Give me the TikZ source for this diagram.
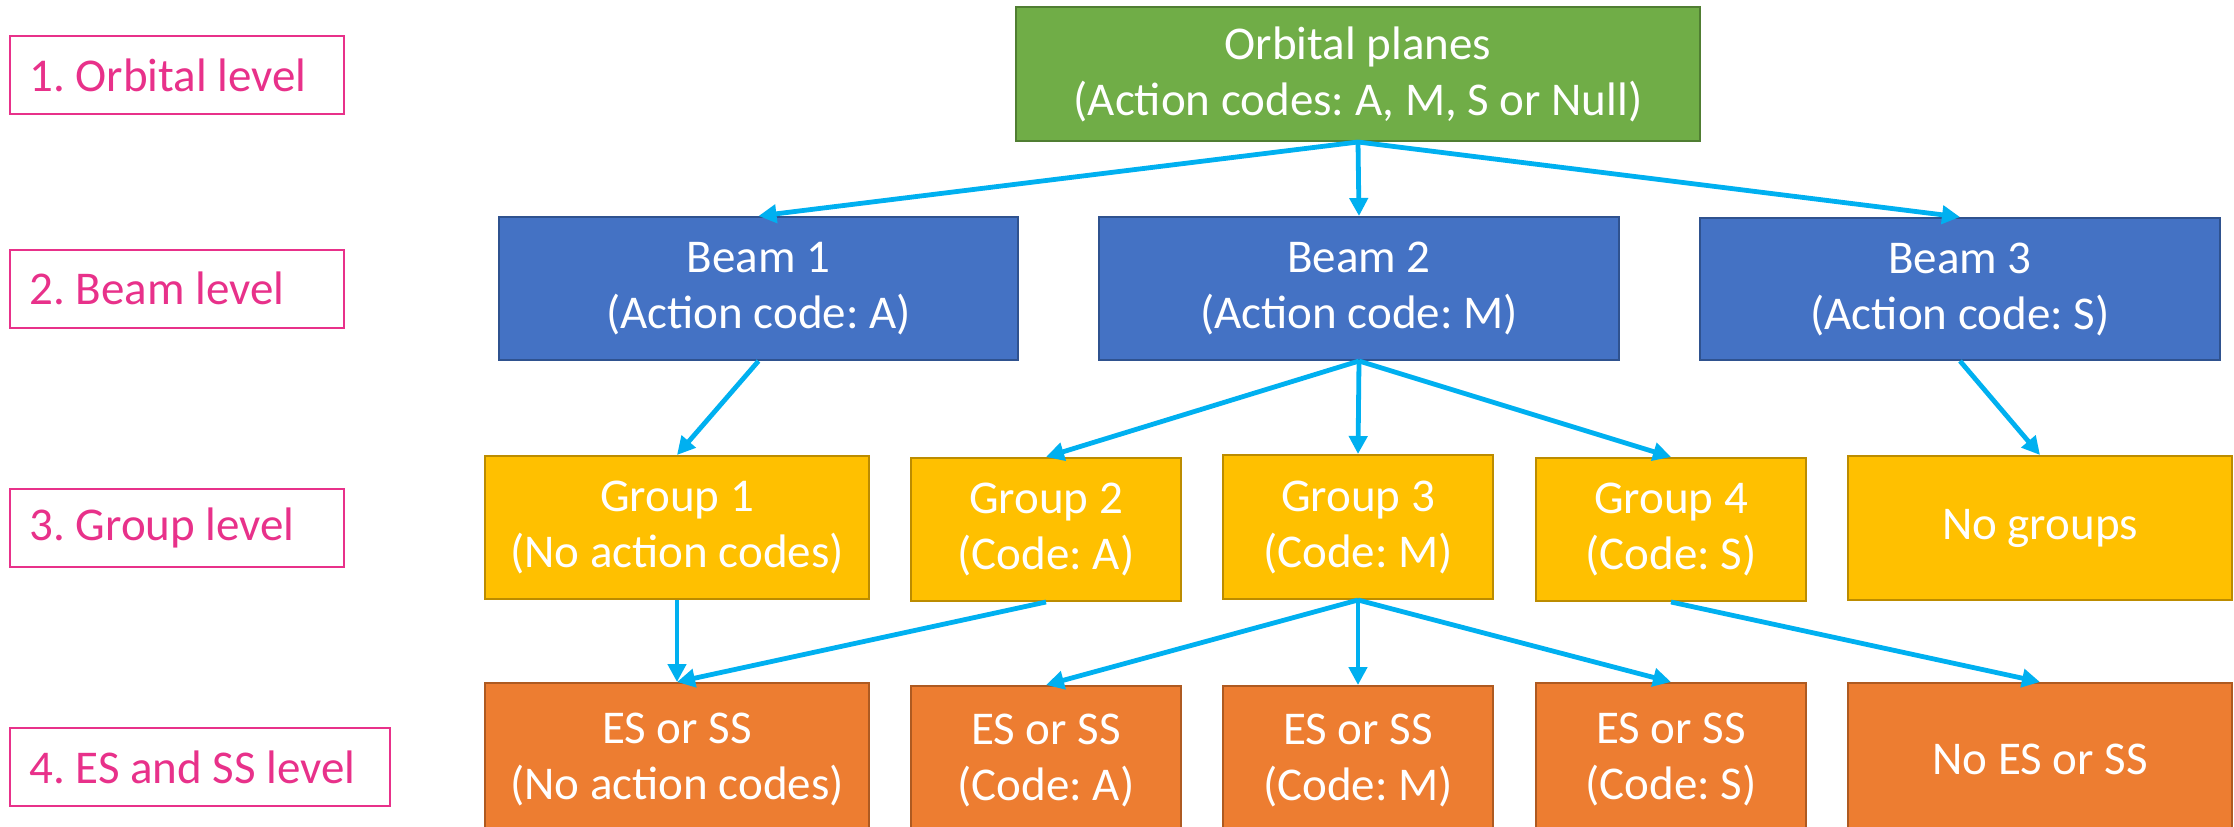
\documentclass[tikz,border=0pt]{standalone}
\usepackage{fontspec}
\setmainfont{Carlito}
\frenchspacing
\usetikzlibrary{arrows.meta}
\definecolor{gfill}{HTML}{70AD47}
\definecolor{gdraw}{HTML}{507E32}
\definecolor{bfill}{HTML}{4472C4}
\definecolor{bdraw}{HTML}{2F528F}
\definecolor{yfill}{HTML}{FFC000}
\definecolor{ydraw}{HTML}{BC8C00}
\definecolor{ofill}{HTML}{ED7D31}
\definecolor{odraw}{HTML}{AE5A21}
\definecolor{pinkc}{HTML}{E8318A}
\definecolor{arrowc}{HTML}{00B0F0}
\tikzset{
  box/.style={rectangle, line width=1pt, text=white, align=center, inner sep=0pt,
    font=\fontsize{23.5}{28}\selectfont},
  greenbox/.style={box, fill=gfill, draw=gdraw},
  bluebox/.style={box, fill=bfill, draw=bdraw},
  yellowbox/.style={box, fill=yfill, draw=ydraw},
  orangebox/.style={box, fill=ofill, draw=odraw},
  lvlbox/.style={rectangle, draw=pinkc, line width=1pt, fill=white,
    inner sep=0pt, minimum height=39pt},
  lvltext/.style={anchor=west, text=pinkc, inner sep=0pt,
    font=\fontsize{23.5}{28}\selectfont},
  conn/.style={draw=arrowc, line width=2.4pt, -{Triangle[length=9pt,width=9pt]}}
}
\begin{document}
\begin{tikzpicture}[x=0.5pt,y=-0.5pt]
\clip (0,0) rectangle (2234,826);
\fill[white] (0,0) rectangle (2234,826);
% level labels
\node[lvlbox, minimum width=167pt] (l1) at (177,75) {};
\node[lvltext] (l1t) at ([xshift=10pt]l1.west) {1. Orbital level};
\node[lvlbox, minimum width=167pt] (l2) at (177,288.5) {};
\node[lvltext] (l2t) at ([xshift=10pt]l2.west) {2. Beam level};
\node[lvlbox, minimum width=167pt] (l3) at (177,527.5) {};
\node[lvltext] (l3t) at ([xshift=10pt]l3.west) {3. Group level};
\node[lvlbox, minimum width=190pt] (l4) at (200,767) {};
\node[lvltext] (l4t) at ([xshift=10pt]l4.west) {4. ES and SS level};
% top
\node[greenbox, minimum width=342pt, minimum height=67pt] (op) at (1358,74) {Orbital planes\\(Action codes: A, M, S or Null)};
% beams
\node[bluebox, minimum width=259.5pt, minimum height=71.5pt] (b1) at (758.5,288.5) {Beam 1\\(Action code: A)};
\node[bluebox, minimum width=260pt, minimum height=71.5pt] (b2) at (1359,288.5) {Beam 2\\(Action code: M)};
\node[bluebox, minimum width=260pt, minimum height=71pt] (b3) at (1960,289) {Beam 3\\(Action code: S)};
% groups
\node[yellowbox, minimum width=192pt, minimum height=71.5pt] (g1) at (677,527.5) {Group 1\\(No action codes)};
\node[yellowbox, minimum width=135pt, minimum height=71.5pt] (g2) at (1046,529.5) {Group 2\\(Code: A)};
\node[yellowbox, minimum width=135pt, minimum height=72pt] (g3) at (1358,527) {Group 3\\(Code: M)};
\node[yellowbox, minimum width=135pt, minimum height=71.5pt] (g4) at (1671,529.5) {Group 4\\(Code: S)};
\node[yellowbox, minimum width=192pt, minimum height=72pt] (g5) at (2040,528) {No groups};
% ES / SS
\node[orangebox, minimum width=192pt, minimum height=76pt] (e1) at (677,759) {ES or SS\\(No action codes)};
\node[orangebox, minimum width=135pt, minimum height=74.5pt] (e2) at (1046,760.5) {ES or SS\\(Code: A)};
\node[orangebox, minimum width=135pt, minimum height=74.5pt] (e3) at (1358,760.5) {ES or SS\\(Code: M)};
\node[orangebox, minimum width=135pt, minimum height=76pt] (e4) at (1671,759) {ES or SS\\(Code: S)};
\node[orangebox, minimum width=192pt, minimum height=76pt] (e5) at (2040,759) {No ES or SS};
% connectors
\draw[conn] (op.south) -- (b1.north);
\draw[conn] (op.south) -- (b2.north);
\draw[conn] (op.south) -- (b3.north);
\draw[conn] (b1.south) -- (g1.north);
\draw[conn] (b2.south) -- (g2.north);
\draw[conn] (b2.south) -- (g3.north);
\draw[conn] (b2.south) -- (g4.north);
\draw[conn] (b3.south) -- (g5.north);
\draw[conn] (g1.south) -- (e1.north);
\draw[conn] (g2.south) -- (e1.north);
\draw[conn] (g3.south) -- (e2.north);
\draw[conn] (g3.south) -- (e3.north);
\draw[conn] (g3.south) -- (e4.north);
\draw[conn] (g4.south) -- (e5.north);
\end{tikzpicture}
\end{document}
